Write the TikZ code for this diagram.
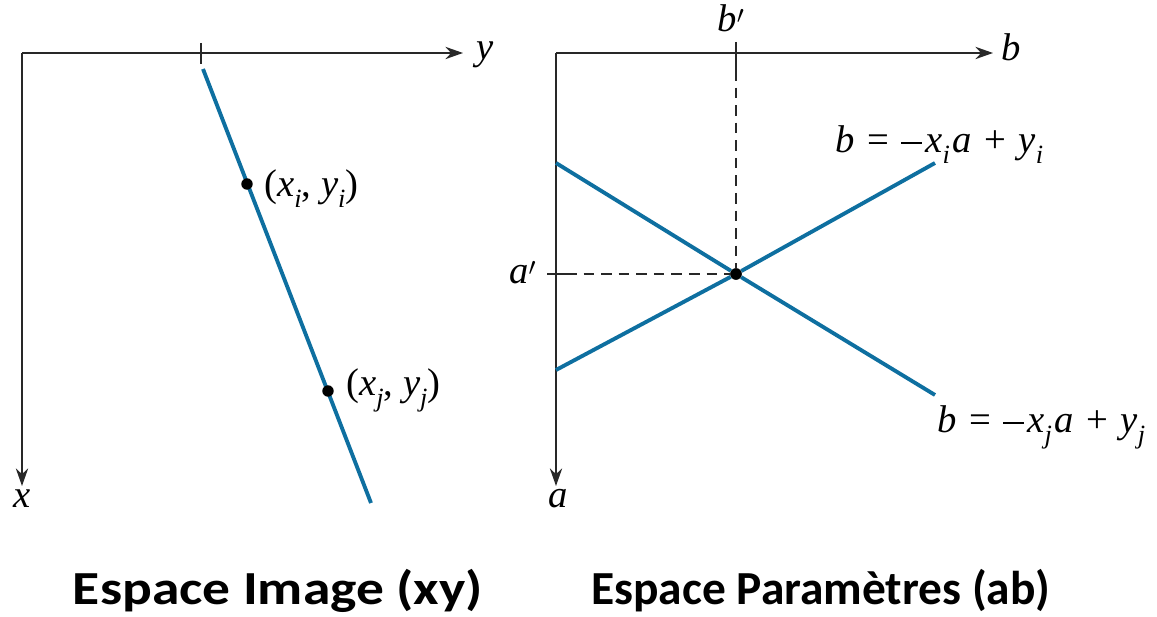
\documentclass[tikz,border=0pt]{standalone}
\usepackage{fontspec}
\setmainfont{Liberation Serif}
\newfontfamily\capfont{Carlito}
\usetikzlibrary{arrows.meta}
\definecolor{lineblue}{RGB}{14,111,160}
\definecolor{axisgray}{RGB}{40,40,40}
\newcommand{\vi}[1]{\textit{#1}}
\newcommand{\sbs}[1]{\raisebox{-0.28em}{\fontsize{15}{17}\selectfont\textit{#1}}}
\newcommand{\bsp}{\hspace{0.32em}}
\newcommand{\mns}{\rule[0.24em]{0.55em}{0.05em}\hspace{0.08em}}
\newcommand{\prm}{\raisebox{-0.12em}{$'$}}
\tikzset{
  axis/.style={draw=axisgray, line width=1.1pt, -{Stealth[length=10pt,width=7pt]}},
  tickline/.style={draw=axisgray, line width=1.1pt},
  guide/.style={draw=axisgray, line width=1.1pt, dash pattern=on 6pt off 4pt},
  houghline/.style={draw=lineblue, line width=2.2pt},
  dotpt/.style={circle, fill=black, inner sep=0pt, minimum size=6.5pt},
  lbl/.style={inner sep=0pt, font=\fontsize{22}{26}\selectfont},
  caption/.style={inner sep=0pt, font=\capfont\bfseries\fontsize{27}{31}\selectfont}
}
\begin{document}
\begin{tikzpicture}[x=0.02cm, y=-0.02cm]
\useasboundingbox (0,0) rectangle (1157,617);
% ---------- left panel ----------
\coordinate (O1) at (22,53);
\coordinate (Y1) at (463,53);
\coordinate (X1) at (22,486);
\draw[axis] (O1) -- (Y1);
\draw[axis] (O1) -- (X1);
\coordinate (t1a) at (201,43);
\coordinate (t1b) at (201,64);
\draw[tickline] (t1a) -- (t1b);
\coordinate (L1s) at (203,69);
\coordinate (L1e) at (371,503);
\draw[houghline] (L1s) -- (L1e);
\node[dotpt] (pi) at (247,184) {};
\node[dotpt] (pj) at (328,391) {};
\node[lbl, anchor=base west] (lpi) at (264,197) {(\vi{x}\sbs{i}, \vi{y}\sbs{i})};
\node[lbl, anchor=base west] (lpj) at (346,396) {(\vi{x}\sbs{j}, \vi{y}\sbs{j})};
\node[lbl, anchor=base west] (ly) at (476,60) {\vi{y}};
\node[lbl, anchor=base] (lx) at (22,508) {\vi{x}};
% ---------- right panel ----------
\coordinate (O2) at (556,53);
\coordinate (B2) at (993,53);
\coordinate (A2) at (556,486);
\draw[axis] (O2) -- (B2);
\draw[axis] (O2) -- (A2);
\node[dotpt] (pc) at (736,274) {};
\coordinate (tb1) at (736,42);
\coordinate (tb2) at (736,70);
\draw[tickline] (tb1) -- (tb2);
\coordinate (ta1) at (547,274);
\coordinate (ta2) at (566,274);
\draw[tickline] (ta1) -- (ta2);
\draw[guide] (tb2) -- (pc);
\draw[guide] (ta2) -- (pc);
\coordinate (Ls1) at (556,163);
\coordinate (Le1) at (935,395);
\coordinate (Ls2) at (556,370);
\coordinate (Le2) at (935,163);
\draw[houghline] (Ls1) -- (pc) -- (Le1);
\draw[houghline] (Ls2) -- (pc) -- (Le2);
\node[dotpt] (pc2) at (736,274) {};
\node[lbl, anchor=base] (lbp) at (731,32) {\vi{b}\prm};
\node[lbl, anchor=base west] (lap) at (509,284) {\vi{a}\prm};
\node[lbl, anchor=base west] (lb) at (1001,61) {\vi{b}};
\node[lbl, anchor=base] (la) at (558,508) {\vi{a}};
\node[lbl, anchor=base west] (eqi) at (835,153) {\vi{b}\bsp=\bsp\mns\vi{x}\sbs{i}\hspace{0.07em}\vi{a}\bsp+\bsp\vi{y}\sbs{i}};
\node[lbl, anchor=base west] (eqj) at (937,433) {\vi{b}\bsp=\bsp\mns\vi{x}\sbs{j}\hspace{0.07em}\vi{a}\bsp+\bsp\vi{y}\sbs{j}};
% ---------- captions ----------
\node[caption, anchor=base] (c1) at (278,605) {\scalebox{1.17}[1]{Espace Image (xy)}};
\node[caption, anchor=base] (c2) at (821,605) {Espace Paramètres (ab)};
\end{tikzpicture}
\end{document}
